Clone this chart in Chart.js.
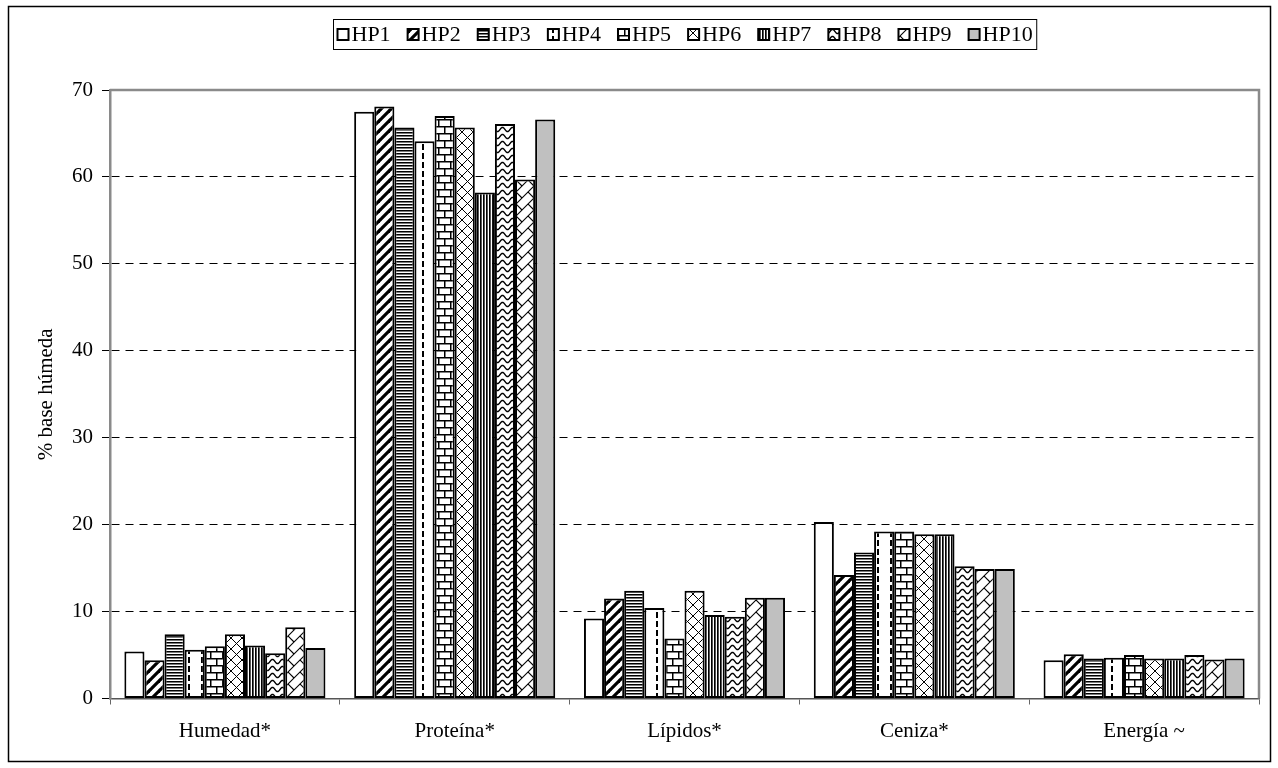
<!DOCTYPE html>
<html>
<head>
<meta charset="utf-8">
<script src="https://cdn.jsdelivr.net/npm/chart.js@4"></script>
<style>
  html, body { margin: 0; padding: 0; background: #fff; }
  canvas { display: block; }
</style>
</head>
<body>
<canvas id="chart" width="1278" height="768"></canvas>
<script>
// Composition by component (% wet basis) for ten hydrolysates
const categories = ['Humedad*', 'Proteína*', 'Lípidos*', 'Ceniza*', 'Energía ~'];
const seriesNames = ['HP1', 'HP2', 'HP3', 'HP4', 'HP5', 'HP6', 'HP7', 'HP8', 'HP9', 'HP10'];

const hp1  = [5.4, 67.5,  9.2, 20.3, 4.4];
const hp2  = [4.4, 68.1, 11.5, 14.2, 5.1];
const hp3  = [7.4, 65.7, 12.4, 16.8, 4.6];
const hp4  = [5.6, 64.1, 10.4, 19.2, 4.7];
const hp5  = [6.0, 67.0,  6.9, 19.2, 5.0];
const hp6  = [7.4, 65.7, 12.4, 18.9, 4.6];
const hp7  = [6.1, 58.2,  9.6, 18.9, 4.6];
const hp8  = [5.2, 66.1,  9.4, 15.2, 5.0];
const hp9  = [8.2, 59.7, 11.6, 14.9, 4.5];
const hp10 = [5.8, 66.6, 11.6, 14.9, 4.6];

const yTicks = [0, 10, 20, 30, 40, 50, 60, 70];
const yTitle = '% base húmeda';

const seriesValues = [hp1, hp2, hp3, hp4, hp5, hp6, hp7, hp8, hp9, hp10];

const SERIF = '"Liberation Serif", "Times New Roman", serif';

// ---- monochrome fill patterns ----
function makePattern(w, h, draw) {
  const c = document.createElement('canvas');
  c.width = w; c.height = h;
  const g = c.getContext('2d');
  g.fillStyle = '#fff';
  g.fillRect(0, 0, w, h);
  g.strokeStyle = '#000';
  g.fillStyle = '#000';
  draw(g, w, h);
  return g.createPattern(c, 'repeat');
}

const fills = [
  // plain white
  '#ffffff',
  // wide upward diagonal
  makePattern(10, 10, (g, w, h) => {
    g.lineWidth = 3.2;
    for (let k = -1; k <= 1; k++) {
      g.beginPath(); g.moveTo(k * w - 1, h + 1); g.lineTo(k * w + w + 1, -1); g.stroke();
    }
  }),
  // narrow horizontal
  makePattern(4, 3, (g) => {
    g.fillStyle = '#000'; g.fillRect(0, 0, 4, 1);
    g.fillStyle = '#7a7a7a'; g.fillRect(0, 1, 4, 1);
  }),
  // dashed vertical
  makePattern(13, 9, (g) => {
    g.fillRect(6, 0, 2, 6);
  }),
  // horizontal brick
  makePattern(12, 14, (g) => {
    g.fillRect(0, 0, 12, 1.5);
    g.fillRect(0, 7, 12, 1.5);
    g.fillRect(0, 0, 1.5, 7);
    g.fillRect(6, 7, 1.5, 7);
  }),
  // diagonal lattice
  makePattern(11, 11, (g, w, h) => {
    g.lineWidth = 1;
    g.beginPath(); g.moveTo(0, 0); g.lineTo(w, h); g.stroke();
    g.beginPath(); g.moveTo(0, h); g.lineTo(w, 0); g.stroke();
  }),
  // narrow vertical
  makePattern(3, 4, (g) => {
    g.fillStyle = '#000'; g.fillRect(0, 0, 1, 4);
    g.fillStyle = '#555'; g.fillRect(1, 0, 1, 4);
  }),
  // wave
  makePattern(10, 7, (g) => {
    g.lineWidth = 1.4;
    g.beginPath();
    for (let x = -1; x <= 11; x += 0.5) {
      const y = 3.5 - 2.1 * Math.sin(2 * Math.PI * x / 10);
      if (x === -1) g.moveTo(x, y); else g.lineTo(x, y);
    }
    g.stroke();
  }),
  // diagonal brick
  makePattern(12, 12, (g, w, h) => {
    g.lineWidth = 1.1;
    for (let k = -1; k <= 1; k++) {
      g.beginPath(); g.moveTo(k * w - 1, h + 1); g.lineTo(k * w + w + 1, -1); g.stroke();
    }
    g.beginPath(); g.moveTo(0, 0); g.lineTo(6, 6); g.stroke();
  }),
  // solid grey
  '#c0c0c0'
];

// ---- page decorations: outer frame, plot frame, legend ----
const framePlugin = {
  id: 'frames',
  beforeDraw(chart) {
    const ctx = chart.ctx;
    ctx.save();
    ctx.fillStyle = '#fff';
    ctx.fillRect(0, 0, chart.width, chart.height);
    ctx.strokeStyle = '#000';
    ctx.lineWidth = 1.5;
    ctx.strokeRect(8.5, 6.5, chart.width - 16, chart.height - 13);
    ctx.restore();
  },
  afterDraw(chart) {
    const ctx = chart.ctx;
    const a = chart.chartArea;
    ctx.save();
    ctx.strokeStyle = '#8a8a8a';
    ctx.lineWidth = 2.5;
    ctx.beginPath();
    ctx.moveTo(a.left, a.top);
    ctx.lineTo(a.right, a.top);
    ctx.lineTo(a.right, a.bottom);
    ctx.stroke();
    ctx.restore();
  }
};

const legendPlugin = {
  id: 'boxedLegend',
  afterDraw(chart) {
    const ctx = chart.ctx;
    const a = chart.chartArea;
    const box = 11, gap = 3, itemGap = 17, pad = 4;
    const top = 19.5, height = 30;
    ctx.save();
    ctx.font = '22px ' + SERIF;
    const items = chart.data.datasets.map((ds) => ({
      label: ds.label, fill: ds.backgroundColor, w: ctx.measureText(ds.label).width
    }));
    let total = pad * 2;
    items.forEach((it, i) => { total += box + gap + it.w + (i < items.length - 1 ? itemGap : 0); });
    const left = Math.round((a.left + a.right) / 2 - total / 2) + 0.5;
    ctx.strokeStyle = '#000';
    ctx.lineWidth = 1;
    ctx.strokeRect(left, top, total, height);
    const cy = top + height / 2;
    let x = left + pad;
    items.forEach(it => {
      ctx.fillStyle = it.fill;
      ctx.fillRect(x, cy - box / 2, box, box);
      ctx.lineWidth = 2;
      ctx.strokeStyle = '#000';
      ctx.strokeRect(x, cy - box / 2, box, box);
      ctx.fillStyle = '#000';
      ctx.textBaseline = 'middle';
      ctx.textAlign = 'left';
      ctx.fillText(it.label, x + box + gap, cy + 1);
      x += box + gap + it.w + itemGap;
    });
    ctx.restore();
  }
};

const datasets = seriesNames.map((name, i) => ({
  label: name,
  data: seriesValues[i],
  backgroundColor: fills[i],
  borderColor: '#000',
  borderWidth: 2,
  borderSkipped: false,
  barPercentage: 1.0,
  categoryPercentage: 0.875
}));

new Chart(document.getElementById('chart'), {
  type: 'bar',
  data: { labels: categories, datasets },
  options: {
    responsive: false,
    animation: false,
    devicePixelRatio: 1,
    layout: { padding: { left: 0, right: 19, top: 90, bottom: 0 } },
    plugins: {
      legend: { display: false },
      tooltip: { enabled: false }
    },
    scales: {
      x: {
        afterFit(scale) { scale.height = 69.5; },
        grid: {
          offset: true,
          drawOnChartArea: false,
          drawTicks: true,
          tickLength: 6,
          tickColor: '#666',
          color: '#666'
        },
        border: { display: true, color: '#555', width: 1.5 },
        ticks: {
          color: '#000',
          font: { family: SERIF, size: 21 },
          padding: 14
        }
      },
      y: {
        min: 0,
        max: 70,
        afterFit(scale) { scale.width = 110; },
        afterBuildTicks(scale) { scale.ticks = yTicks.map(v => ({ value: v })); },
        grid: {
          color: ctx => (ctx.tick && (ctx.tick.value === 0 || ctx.tick.value === 70)) ? 'rgba(0,0,0,0)' : '#000',
          lineWidth: 1,
          tickColor: '#000',
          tickLength: 8,
          tickBorderDash: []
        },
        border: { display: true, color: '#8a8a8a', width: 2.5, dash: [8, 6] },
        ticks: {
          color: '#000',
          font: { family: SERIF, size: 21 },
          padding: 9
        },
        title: {
          display: true,
          text: yTitle,
          color: '#000',
          font: { family: SERIF, size: 21 },
          padding: { top: 34, bottom: 0 }
        }
      }
    }
  },
  plugins: [framePlugin, legendPlugin]
});
</script>
</body>
</html>
